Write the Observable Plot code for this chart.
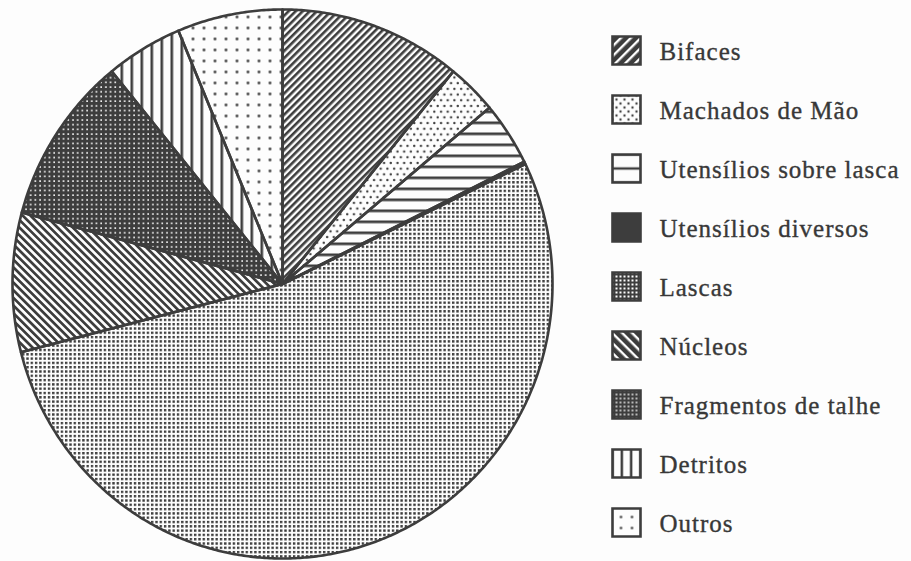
<!DOCTYPE html>
<html>
<head>
<meta charset="utf-8">
<script src="https://cdn.jsdelivr.net/npm/d3@7"></script>
<script src="https://cdn.jsdelivr.net/npm/@observablehq/plot@0.6"></script>
<style>
  html, body { margin: 0; padding: 0; background: #fdfdfd; }
  #wrap { display: flex; width: 911px; height: 561px; overflow: hidden; }
</style>
</head>
<body>
<svg width="0" height="0" style="position:absolute" id="defs-holder"></svg>
<div id="wrap"></div>
<script>
// ---- data ----
const categories = ["Bifaces", "Machados de Mão", "Utensílios sobre lasca", "Utensílios diversos",
  "Lascas", "Núcleos", "Fragmentos de talhe", "Detritos", "Outros"];
const shares = [10.9, 3.0, 3.75, 0.15, 53.2, 8.2, 9.9, 4.6, 6.3];
const patternKeys = ["bif", "mach", "usl", "udv", "lasc", "nuc", "frag", "detr", "out"];

const INK = "#3d3d3d";
const PAPER = "#fdfdfd";

// ---- hatch patterns ----
const defs = `
<defs>
  <pattern id="p-bif" width="5" height="5" patternUnits="userSpaceOnUse" patternTransform="rotate(-45)">
    <rect width="5" height="5" fill="${PAPER}"/><rect width="5" height="2.6" fill="${INK}"/></pattern>
  <pattern id="p-mach" width="6.7" height="11.4" patternUnits="userSpaceOnUse">
    <rect width="6.7" height="11.4" fill="${PAPER}"/>
    <circle cx="1.7" cy="2.8" r="1.2" fill="${INK}"/><circle cx="5.05" cy="8.5" r="1.2" fill="${INK}"/></pattern>
  <pattern id="p-usl" width="11" height="11" patternUnits="userSpaceOnUse">
    <rect width="11" height="11" fill="${PAPER}"/><rect width="11" height="2.7" fill="${INK}"/></pattern>
  <pattern id="p-udv" width="4" height="4" patternUnits="userSpaceOnUse">
    <rect width="4" height="4" fill="${INK}"/></pattern>
  <pattern id="p-lasc" width="4.3" height="4.3" patternUnits="userSpaceOnUse">
    <rect width="4.3" height="4.3" fill="${PAPER}"/><rect width="2.4" height="2.4" fill="${INK}"/></pattern>
  <pattern id="p-nuc" width="5.4" height="5.4" patternUnits="userSpaceOnUse" patternTransform="rotate(45)">
    <rect width="5.4" height="5.4" fill="${PAPER}"/><rect width="5.4" height="2.7" fill="${INK}"/></pattern>
  <pattern id="p-frag" width="4.7" height="4.7" patternUnits="userSpaceOnUse">
    <rect width="4.7" height="4.7" fill="${INK}"/><rect x="1.2" y="1.2" width="1.6" height="1.6" fill="${PAPER}"/></pattern>
  <pattern id="p-detr" width="10" height="10" patternUnits="userSpaceOnUse">
    <rect width="10" height="10" fill="${PAPER}"/><rect width="2.6" height="10" fill="${INK}"/></pattern>
  <pattern id="p-out" width="11" height="11" patternUnits="userSpaceOnUse">
    <rect width="11" height="11" fill="${PAPER}"/><circle cx="5.5" cy="5.5" r="1.4" fill="${INK}"/></pattern>

  <pattern id="l-bif" width="7" height="7" patternUnits="userSpaceOnUse" patternTransform="rotate(-45)">
    <rect width="7" height="7" fill="${INK}"/><rect width="7" height="2.4" fill="${PAPER}"/></pattern>
  <pattern id="l-mach" width="8" height="8" patternUnits="userSpaceOnUse">
    <rect width="8" height="8" fill="${PAPER}"/>
    <circle cx="2" cy="2" r="1.2" fill="${INK}"/><circle cx="6" cy="6" r="1.2" fill="${INK}"/></pattern>
  <pattern id="l-usl" width="14" height="14" patternUnits="userSpaceOnUse">
    <rect width="14" height="14" fill="${PAPER}"/><rect y="-1.2" width="14" height="2.4" fill="${INK}"/><rect y="12.8" width="14" height="2.4" fill="${INK}"/></pattern>
  <pattern id="l-udv" width="4" height="4" patternUnits="userSpaceOnUse">
    <rect width="4" height="4" fill="${INK}"/></pattern>
  <pattern id="l-lasc" width="4" height="4" patternUnits="userSpaceOnUse">
    <rect width="4" height="4" fill="${INK}"/><rect x="1" y="1" width="2" height="2" fill="${PAPER}"/></pattern>
  <pattern id="l-nuc" width="7" height="7" patternUnits="userSpaceOnUse" patternTransform="rotate(45)">
    <rect width="7" height="7" fill="${INK}"/><rect width="7" height="2.4" fill="${PAPER}"/></pattern>
  <pattern id="l-frag" width="4" height="4" patternUnits="userSpaceOnUse">
    <rect width="4" height="4" fill="${INK}"/><rect x="1.2" y="1.2" width="1.6" height="1.6" fill="${PAPER}"/></pattern>
  <pattern id="l-detr" width="9.33" height="9.33" patternUnits="userSpaceOnUse">
    <rect width="9.33" height="9.33" fill="${PAPER}"/><rect x="3.4" width="2.5" height="9.33" fill="${INK}"/></pattern>
  <pattern id="l-out" width="11" height="11" patternUnits="userSpaceOnUse">
    <rect width="11" height="11" fill="${PAPER}"/><circle cx="5.5" cy="5.5" r="1.3" fill="${INK}"/></pattern>
</defs>`;
document.getElementById("defs-holder").innerHTML = defs;

// ---- pie geometry from data ----
const table = categories.map((name, i) => ({name, share: shares[i], key: patternKeys[i]}));
const arcs = d3.pie().sort(null).value(d => d.share)(table);
const step = Math.PI / 360;
const points = [];
for (const a of arcs) {
  const n = Math.max(2, Math.ceil((a.endAngle - a.startAngle) / step));
  points.push({name: a.data.name, key: a.data.key, x: 0, y: 0});
  for (let k = 0; k <= n; ++k) {
    const t = a.startAngle + (a.endAngle - a.startAngle) * k / n;
    points.push({name: a.data.name, key: a.data.key, x: Math.sin(t), y: Math.cos(t)});
  }
}

const pie = Plot.plot({
  width: 570,
  height: 561,
  margin: 0,
  style: "background: transparent; overflow: visible;",
  x: {domain: [-1, 1], range: [12, 552], axis: null},
  y: {domain: [-1, 1], range: [558, 9], axis: null},
  color: {type: "identity"},
  marks: [
    Plot.line(points, {x: "x", y: "y", z: "name", fill: d => `url(#p-${d.key})`, stroke: "none", curve: "linear-closed"}),
    Plot.line(points, {x: "x", y: "y", z: "name", fill: "none", stroke: INK, strokeWidth: 2.6,
      strokeLinejoin: "round", curve: "linear-closed"})
  ]
});

const legend = Plot.plot({
  width: 341,
  height: 561,
  marginLeft: 56,
  marginRight: 0,
  marginTop: 0,
  marginBottom: 0,
  style: "background: transparent; overflow: visible; font-family: 'Liberation Serif', 'Times New Roman', serif; letter-spacing: 1px;",
  y: {type: "point", domain: categories, range: [47, 524], padding: 0, axis: null},
  color: {type: "identity"},
  marks: [
    Plot.dot(table, {y: "name", frameAnchor: "left", symbol: "square", r: 15.8,
      fill: d => `url(#l-${d.key})`, stroke: INK, strokeWidth: 2.6}),
    Plot.text(table, {y: "name", text: "name", frameAnchor: "left", textAnchor: "start",
      dx: 33, dy: 1, fontSize: 25, fill: "#383838", stroke: "#383838", strokeWidth: 0.35})
  ]
});

const wrap = document.getElementById("wrap");
wrap.appendChild(pie);
wrap.appendChild(legend);
</script>
</body>
</html>
